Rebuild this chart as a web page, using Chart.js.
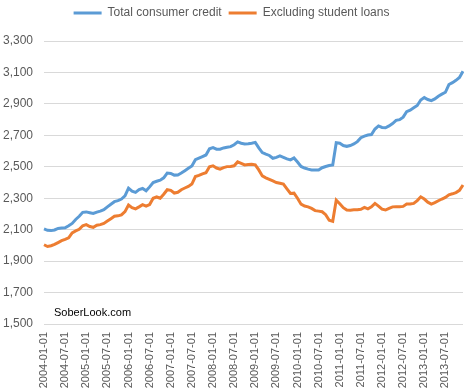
<!DOCTYPE html>
<html>
<head>
<meta charset="utf-8">
<script src="https://cdn.jsdelivr.net/npm/chart.js@4"></script>
<style>
  html, body { margin: 0; padding: 0; background: #fff; }
  #wrap { width: 476px; height: 392px; }
</style>
</head>
<body>
<div id="wrap"><canvas id="myChart"></canvas></div>
<script>
// monthly, 2004-01 .. 2013-12
const months = [];
for (let y = 2004; y <= 2013; y++) {
    for (let m = 1; m <= 12; m++) {
        months.push(y + '-' + String(m).padStart(2, '0') + '-01');
    }
}

const totalCredit = [
    2105, 2096, 2094, 2098, 2108, 2110, 2112, 2125, 2140, 2165, 2185, 2210,
    2213, 2208, 2203, 2212, 2218, 2227, 2245, 2262, 2278, 2285, 2295, 2315,
    2364, 2345, 2337, 2355, 2362, 2347, 2372, 2400, 2408, 2415, 2430, 2460,
    2458, 2447, 2448, 2460, 2475, 2490, 2505, 2545, 2555, 2565, 2575, 2615,
    2622, 2612, 2612, 2620, 2624, 2628, 2640, 2658, 2650, 2645, 2647, 2650,
    2655, 2620, 2590, 2580, 2572, 2554, 2560, 2569, 2560, 2550, 2544, 2556,
    2530, 2502, 2492, 2485, 2480, 2480, 2480, 2494, 2502, 2508, 2512, 2653,
    2650, 2635, 2630, 2635, 2645, 2660, 2685, 2695, 2702, 2705, 2740, 2760,
    2750, 2748, 2760, 2775, 2795, 2800, 2816, 2850, 2860, 2875, 2890, 2925,
    2940, 2928, 2921, 2932, 2949, 2962, 2974, 3023, 3035, 3050, 3068, 3107
];

const exStudent = [
    2004, 1993, 1998, 2006, 2018, 2030, 2038, 2048, 2080, 2092, 2102, 2125,
    2132, 2120, 2115, 2128, 2132, 2140, 2155, 2170, 2185, 2188, 2194, 2215,
    2257, 2240, 2232, 2245, 2259, 2250, 2260, 2300, 2308, 2300, 2325, 2354,
    2350, 2333, 2338, 2354, 2365, 2375, 2390, 2438, 2445, 2455, 2462, 2500,
    2506, 2492, 2485, 2495, 2501, 2502, 2506, 2531, 2522, 2512, 2514, 2516,
    2512, 2480, 2442, 2430, 2420, 2410, 2400, 2395, 2390, 2360, 2330, 2332,
    2300, 2262, 2250, 2245, 2235, 2221, 2218, 2214, 2195, 2160, 2153, 2288,
    2265, 2240, 2225, 2224, 2226, 2227, 2230, 2242, 2232, 2245, 2267, 2250,
    2230, 2225, 2236, 2245, 2246, 2246, 2248, 2263, 2263, 2267, 2285, 2309,
    2295, 2275, 2263, 2272, 2284, 2295, 2305, 2322, 2328, 2336, 2350, 2384
];

const yTicks = [1500, 1700, 1900, 2100, 2300, 2500, 2700, 2900, 3100, 3300];

const fontName = '"Liberation Sans", Arial, sans-serif';
const grey = '#595959';

// extra room under the legend
const legendGap = {
    id: 'legendGap',
    beforeInit(chart) {
        const fit = chart.legend.fit;
        chart.legend.fit = function () {
            fit.bind(chart.legend)();
            this.height += 12;
        };
    }
};

// watermark text inside the plot
const watermark = {
    id: 'watermark',
    afterDraw(chart) {
        const ctx = chart.ctx;
        ctx.save();
        ctx.font = '11px ' + fontName;
        ctx.fillStyle = '#000';
        ctx.textBaseline = 'middle';
        ctx.fillText('SoberLook.com', 54, 313);
        ctx.restore();
    }
};

const config = {
    type: 'line',
    data: {
        labels: months,
        datasets: [{
            label: 'Total consumer credit',
            data: totalCredit,
            borderColor: '#5B9BD5',
            backgroundColor: '#5B9BD5',
            borderWidth: 3,
            pointRadius: 0,
            pointStyle: 'line',
            tension: 0
        }, {
            label: 'Excluding student loans',
            data: exStudent,
            borderColor: '#ED7D31',
            backgroundColor: '#ED7D31',
            borderWidth: 3,
            pointRadius: 0,
            pointStyle: 'line',
            tension: 0
        }]
    },
    options: {
        responsive: true,
        maintainAspectRatio: false,
        animation: false,
        layout: {
            padding: { left: 0, right: 13, top: 0, bottom: 0 }
        },
        plugins: {
            legend: {
                position: 'top',
                labels: {
                    usePointStyle: true,
                    pointStyleWidth: 28,
                    color: grey,
                    font: { family: fontName, size: 12 },
                    padding: 7
                }
            },
            tooltip: { enabled: false }
        },
        scales: {
            x: {
                grid: { display: false },
                border: { display: false },
                ticks: {
                    autoSkip: false,
                    minRotation: 90,
                    maxRotation: 90,
                    padding: 0,
                    color: grey,
                    font: { family: fontName, size: 11 },
                    callback: function (val, index) {
                        return index % 6 === 0 ? this.getLabelForValue(val) : null;
                    }
                },
                afterFit: function (scale) { scale.height = 68; }
            },
            y: {
                min: 1500,
                max: 3300,
                afterBuildTicks: function (scale) {
                    scale.ticks = yTicks.map(v => ({ value: v }));
                },
                grid: { color: '#D9D9D9', drawTicks: false },
                border: { display: false },
                ticks: {
                    padding: 11,
                    color: grey,
                    font: { family: fontName, size: 12 },
                    callback: v => v.toLocaleString('en-US')
                },
                afterFit: function (scale) { scale.width = 44; }
            }
        }
    },
    plugins: [legendGap, watermark]
};

const myChart = new Chart(document.getElementById('myChart'), config);
</script>
</body>
</html>
